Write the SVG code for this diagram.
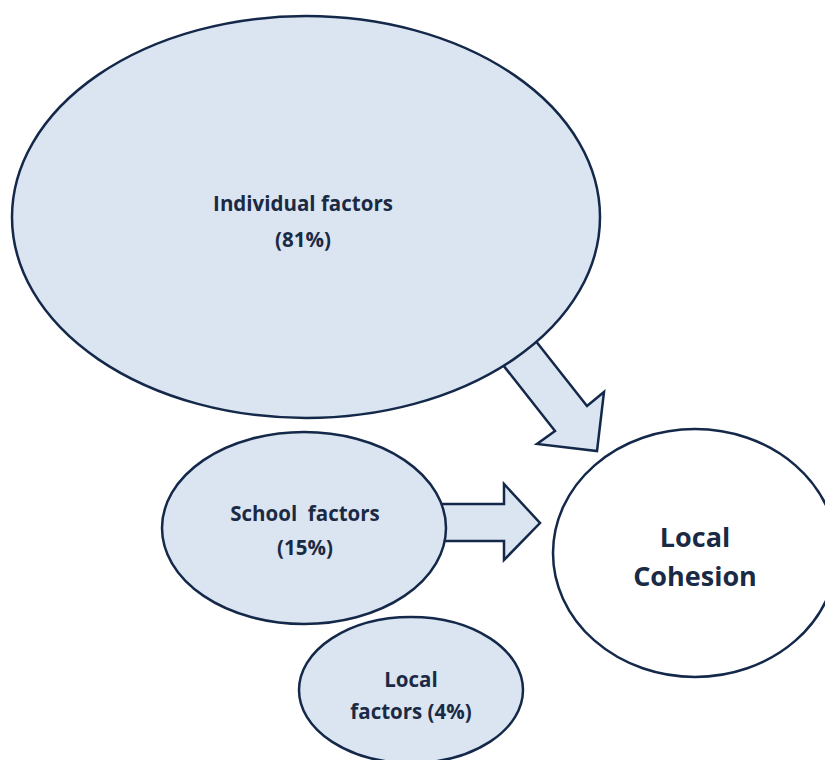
<svg xmlns="http://www.w3.org/2000/svg" width="825" height="760" viewBox="0 0 825 760">
<style>
.n{fill:#dbe5f1;stroke:#14284a;stroke-width:2.5}
.w{fill:#ffffff;stroke:#14284a;stroke-width:2.5}
.a{fill:#dbe5f1;stroke:#14284a;stroke-width:2.5;stroke-linejoin:miter}
.t{font-family:"Open Sans",Lato,"Liberation Sans",sans-serif;font-weight:bold;fill:#1b2a44;text-anchor:middle;white-space:pre}
</style>
<rect width="825" height="760" fill="#ffffff"/>
<g id="connectors">
<polygon class="a" points="509,307 535,340 587,406 604,392 597,451 537,444 555,431 477,332"/>
<polygon class="a" points="420,504 504,504 504,484 540,523 504,560 504,541 420,541"/>
</g>
<g id="individual">
<ellipse class="n" cx="306" cy="217" rx="294" ry="201"/>
<text class="t" x="303" y="211" font-size="20.5">Individual factors</text>
<text class="t" x="303" y="247" font-size="20.5">(81%)</text>
</g>
<g id="school">
<ellipse class="n" cx="304" cy="528" rx="142" ry="96"/>
<text class="t" x="305" y="521" font-size="20.5" xml:space="preserve">School  factors</text>
<text class="t" x="305" y="555" font-size="20.5">(15%)</text>
</g>
<g id="local">
<ellipse class="n" cx="411" cy="690" rx="112" ry="73"/>
<text class="t" x="411" y="687" font-size="20.5">Local</text>
<text class="t" x="411" y="719" font-size="20.5">factors (4%)</text>
</g>
<g id="cohesion">
<ellipse class="w" cx="695" cy="553" rx="142" ry="124"/>
<text class="t" x="695" y="547" font-size="27">Local</text>
<text class="t" x="695" y="586" font-size="27">Cohesion</text>
</g>
</svg>
